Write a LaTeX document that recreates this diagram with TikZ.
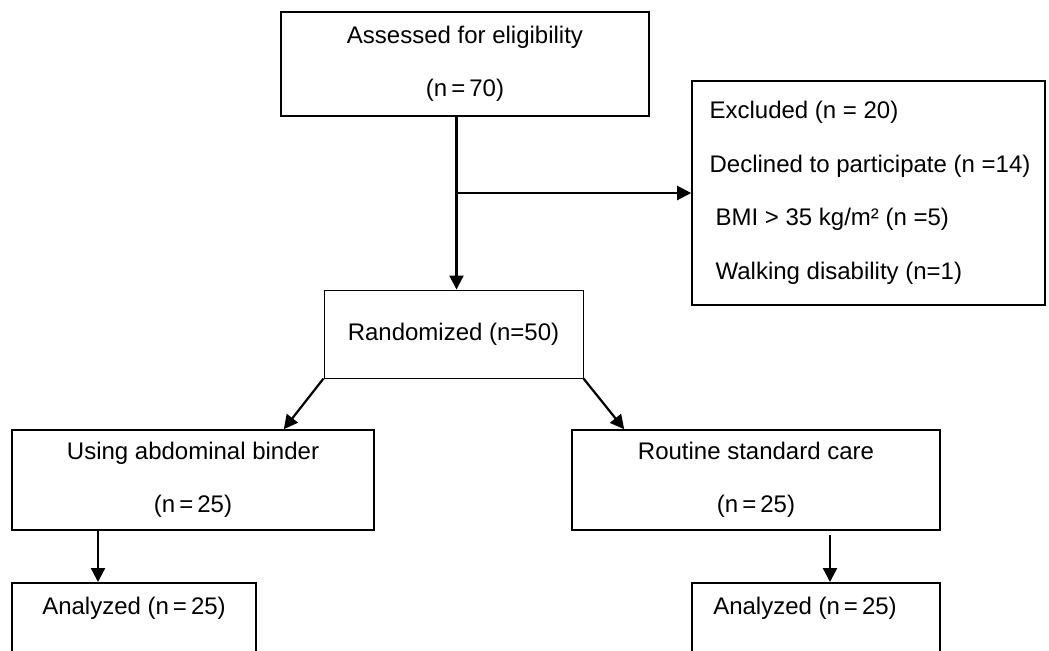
\documentclass[tikz,border=0pt]{standalone}
\usepackage{fontspec}
\setmainfont{Liberation Sans}
\usetikzlibrary{arrows.meta,positioning}

\begin{document}
\begin{tikzpicture}[x=0.5pt, y=-0.5pt,
		box/.style={draw, line width=0.8pt, align=center, inner sep=0pt,
			font=\fontsize{12}{26.5}\selectfont},
		txt/.style={inner sep=0pt, font=\fontsize{12}{14}\selectfont},
		arr/.style={-{Triangle[length=7pt, width=7pt]}, line width=1.1pt}]
		%\draw[lightgray] (0, 0) grid[step=50] (1049, 650);
		\useasboundingbox (0, 0) rectangle (1049, 650);
		\clip (0, 0) rectangle (1049, 650);
		
		\node[box, minimum width=184pt, minimum height=52pt] (assess) at (465, 64)
			{Assessed for eligibility\\(n\,=\,70)};
		\node[box, align=left, minimum width=176.5pt, minimum height=112pt,
			font=\fontsize{12}{26.75}\selectfont] (excl) at (868.5, 193)
			{\hspace*{1.5pt}Excluded (n = 20)\\\hspace*{1.5pt}Declined to participate (n =14)\\
			\hspace*{4.5pt}BMI > 35 kg/m² (n =5)\\\hspace*{4.5pt}Walking disability (n=1)};
		\node[box, line width=0.5pt, minimum width=129.5pt, minimum height=44pt] (rand) at (453.5, 334)
			{\raisebox{-3pt}{Randomized (n=50)}};
		
		\node[box, minimum width=181pt, minimum height=50pt] (using) at (193, 480)
			{Using abdominal binder\\(n\,=\,25)};
		\node[box, minimum width=184pt, minimum height=50pt] (routine) at (756, 480)
			{Routine standard care\\(n\,=\,25)};
		
		\node[box, anchor=north, minimum width=122pt, minimum height=60pt] (anL) at (134, 582) {};
		\node[box, anchor=north, minimum width=124pt, minimum height=60pt] (anR) at (816, 582) {};
		\node[txt] (anLtxt) at ([yshift=-13pt]anL.north) {Analyzed (n\,=\,25)};
		\node[txt] (anRtxt) at ([xshift=-5.5pt, yshift=-13pt]anR.north) {Analyzed (n\,=\,25)};
		
		\coordinate (split) at ([xshift=1.5pt]rand.north |- excl.west);
		\draw[arr] ([xshift=1.5pt]rand.north |- assess.south) -- ([xshift=1.5pt]rand.north);
		\draw[arr] (split) -- (excl.west);
		\draw[arr] (rand.south west) -- ([xshift=-45.5pt]using.north east);
		\draw[arr] (rand.south east) -- ([xshift=26.5pt]routine.north west);
		\draw[arr] ([xshift=-18pt]anL.north |- using.south) -- ([xshift=-18pt]anL.north);
		\draw[arr] ([xshift=7pt, yshift=-2pt]anR.north |- routine.south) -- ([xshift=7pt]anR.north);
	\end{tikzpicture}
\end{document}
